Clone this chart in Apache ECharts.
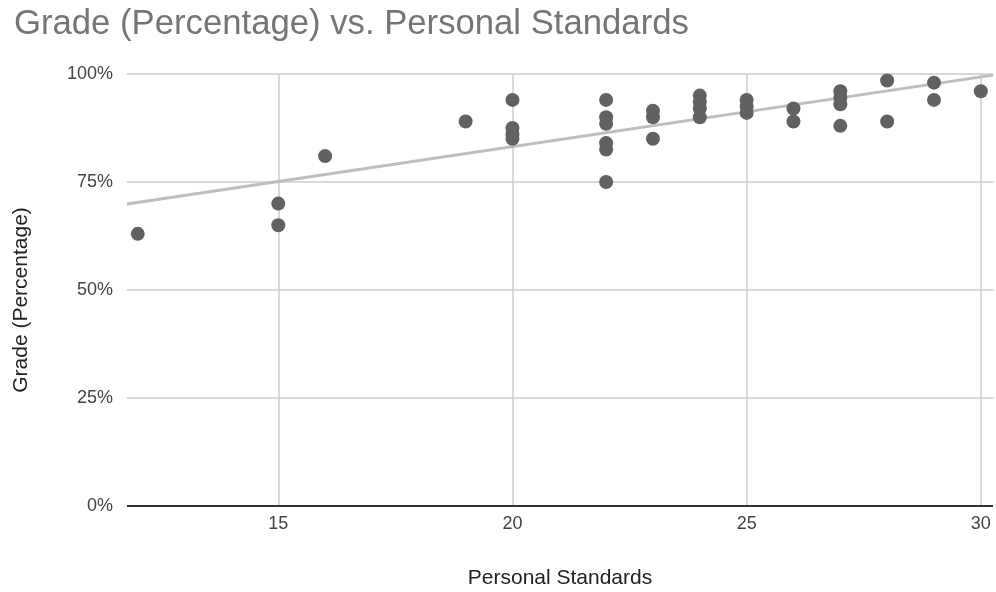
<!DOCTYPE html>
<html>
<head>
<meta charset="utf-8">
<script src="https://cdn.jsdelivr.net/npm/echarts@6/dist/echarts.min.js"></script>
<style>
html,body{margin:0;padding:0;background:#fff;}
#chart{width:996px;height:592px;}
</style>
</head>
<body>
<div id="chart"></div>
<script>
// Data
var personalStandards = [12, 15, 15, 16, 19, 20, 20, 20, 20, 22, 22, 22, 22, 22, 22, 23, 23, 23, 24, 24, 24, 24, 25, 25, 25, 26, 26, 27, 27, 27, 27, 28, 28, 29, 29, 30];
var gradePercent =      [63, 70, 65, 81, 89, 94, 87.5, 86, 85, 94, 90, 88.5, 84, 82.5, 75, 91.5, 90, 85, 95, 93.5, 92, 90, 94, 92.5, 91, 92, 89, 96, 94.5, 93, 88, 98.5, 89, 98, 94, 96];
var xTicks = [15, 20, 25, 30];
var yTicks = [0, 25, 50, 75, 100];
var xRange = [11.77, 30.26];

var title = 'Grade (Percentage) vs. Personal Standards';
var xName = 'Personal Standards';
var yName = 'Grade (Percentage)';

var points = personalStandards.map(function (x, i) { return [x, gradePercent[i]]; });

// least-squares trendline
var n = points.length, sx = 0, sy = 0, sxx = 0, sxy = 0;
points.forEach(function (p) { sx += p[0]; sy += p[1]; sxx += p[0] * p[0]; sxy += p[0] * p[1]; });
var slope = (n * sxy - sx * sy) / (n * sxx - sx * sx);
var intercept = (sy - slope * sx) / n;
var trend = xRange.map(function (x) { return [x, intercept + slope * x]; });

var FONT = '"Liberation Sans", Arial, sans-serif';
var chart = echarts.init(document.getElementById('chart'), null, { renderer: 'canvas' });
chart.setOption({
  animation: false,
  backgroundColor: '#ffffff',
  title: {
    text: title,
    left: 9,
    top: 2,
    textStyle: { fontFamily: FONT, fontSize: 34.7, fontWeight: 'normal', color: '#757575' }
  },
  grid: { left: 127, right: 3, top: 74, bottom: 86, containLabel: false, outerBoundsMode: 'none' },
  xAxis: {
    type: 'value',
    min: xRange[0],
    max: xRange[1],
    name: xName,
    nameLocation: 'middle',
    nameGap: 62,
    nameTextStyle: { fontFamily: FONT, fontSize: 21, color: '#222' },
    axisLine: { show: false },
    axisTick: { show: false, customValues: xTicks },
    axisLabel: { customValues: xTicks, margin: 9, fontFamily: FONT, fontSize: 18, color: '#444' },
    splitLine: { show: true, lineStyle: { color: '#cccccc', width: 1.5 } }
  },
  yAxis: {
    type: 'value',
    min: yTicks[0],
    max: yTicks[yTicks.length - 1],
    interval: 25,
    name: yName,
    nameLocation: 'middle',
    nameGap: 95,
    nameTextStyle: { fontFamily: FONT, fontSize: 21, color: '#222', padding: [0, 20, 0, 0] },
    axisLine: { show: false },
    axisTick: { show: false },
    axisLabel: { margin: 14, fontFamily: FONT, fontSize: 18, color: '#444', formatter: '{value}%' },
    splitLine: { show: true, lineStyle: { color: '#cccccc', width: 1.5 } }
  },
  series: [
    {
      type: 'line',
      data: trend,
      showSymbol: false,
      silent: true,
      lineStyle: { color: '#bdbdbd', width: 3 },
      z: 2
    },
    {
      type: 'scatter',
      data: points,
      symbolSize: 14,
      itemStyle: { color: '#616161', opacity: 1 },
      z: 3
    },
    {
      type: 'line',
      data: [[xRange[0], 0], [xRange[1], 0]],
      showSymbol: false,
      silent: true,
      lineStyle: { color: '#333333', width: 2 },
      z: 1
    }
  ]
});
</script>
</body>
</html>
